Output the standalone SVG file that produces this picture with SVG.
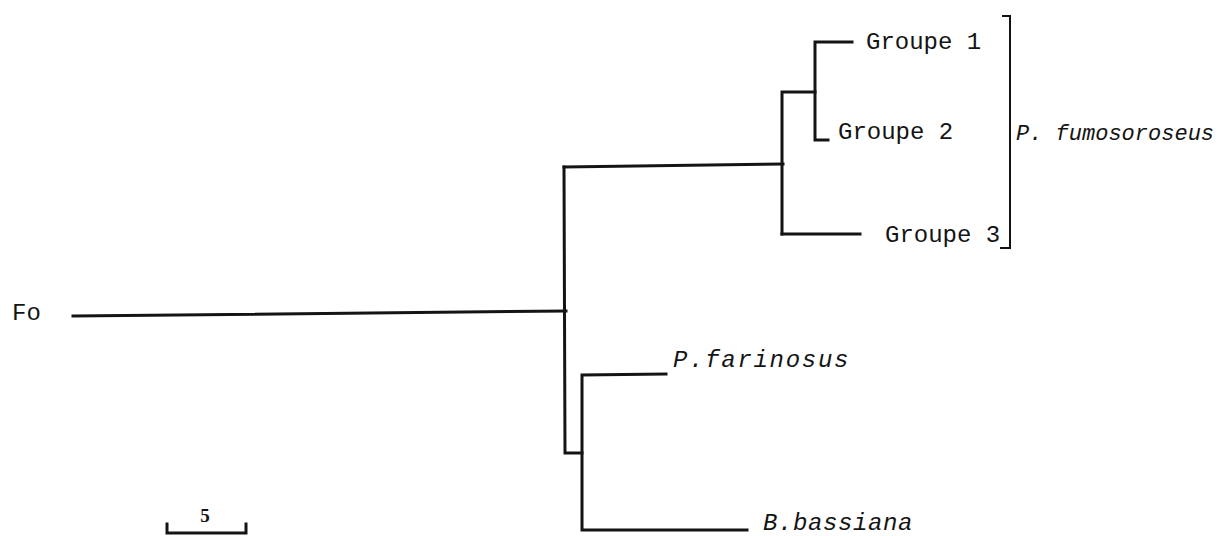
<svg xmlns="http://www.w3.org/2000/svg" width="1230" height="536" viewBox="0 0 1230 536">
<style>
.br{fill:none;stroke:#141414;stroke-width:3;stroke-linecap:square;stroke-linejoin:miter}
.thin{fill:none;stroke:#141414;stroke-width:2}
.lb{font-family:"Liberation Mono","DejaVu Sans Mono",monospace;font-size:24px;fill:#141414}
.it{font-style:italic}
.sm{font-size:22px}
</style>
<rect width="1230" height="536" fill="#ffffff"/>
<g id="connectors">
<path class="br" d="M73,316 L566,311"/>
<path class="br" d="M564,167 L565,453 L582,453"/>
<path class="br" d="M564,167 L783,164"/>
<path class="br" d="M782,234 L782,92 L815,92"/>
<path class="br" d="M852,42 L815,42 L815,140 L828,140"/>
<path class="br" d="M782,234 L860,234"/>
<path class="br" d="M666,374 L582,375 L582,530 L747,530"/>
<path class="thin" d="M1002,16 L1010,16 L1010,248 L1000,248"/>
</g>
<g id="node-fo"><text class="lb" x="12" y="320">Fo</text></g>
<g id="node-g1"><text class="lb" x="866" y="49">Groupe 1</text></g>
<g id="node-g2"><text class="lb" x="838" y="139">Groupe 2</text></g>
<g id="node-g3"><text class="lb" x="885" y="242">Groupe 3</text></g>
<g id="node-fumo"><text class="lb it sm" x="1016" y="140">P. fumosoroseus</text></g>
<g id="node-farinosus"><text class="lb it" x="673" y="367" letter-spacing="1.7">P.farinosus</text></g>
<g id="node-bassiana"><text class="lb it" x="763" y="530" letter-spacing="0.6">B.bassiana</text></g>
<g id="scale">
<path class="br" stroke-width="2.5" d="M167,524 L167,533 L246,533 L246,524"/>
<text x="205" y="522" text-anchor="middle" font-family="Liberation Serif, serif" font-weight="bold" font-size="19" fill="#141414">5</text>
</g>
</svg>
